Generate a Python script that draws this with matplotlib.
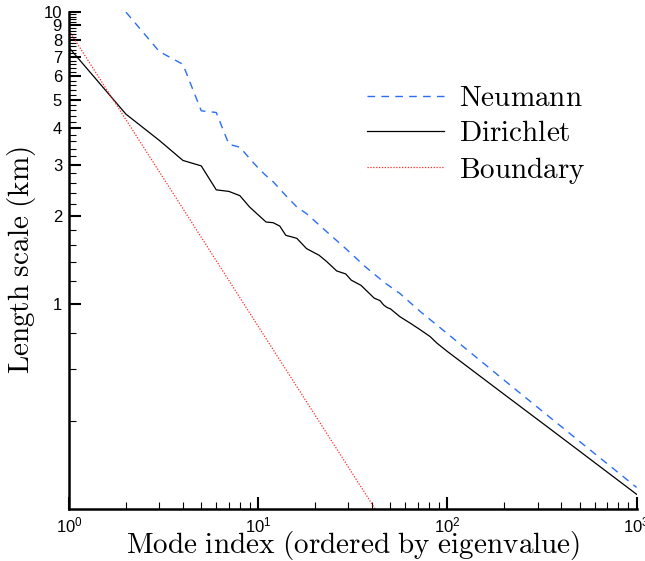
import numpy as np
import matplotlib
matplotlib.use("Agg")
import matplotlib.pyplot as plt
from matplotlib.ticker import FixedLocator, FixedFormatter, NullFormatter

plt.rcParams['font.family'] = ['Liberation Sans', 'DejaVu Sans']

# values
neumann_n = [2, 3, 4, 5, 6, 7, 8, 9, 10, 11, 12, 14, 16, 18, 23, 29, 37, 47, 56, 72, 100, 200, 500, 1000]
neumann_L = [9.95, 7.3, 6.6, 4.58, 4.52, 3.52, 3.44, 3.15, 2.92, 2.75, 2.62, 2.35, 2.15, 2.04, 1.77, 1.55,
             1.34, 1.18, 1.09, 0.944, 0.794, 0.55, 0.34, 0.237]

dirichlet_n = [1, 2, 3, 4, 5, 6, 7, 8, 9, 10, 11, 12, 13, 14, 15, 16, 18, 21, 23, 26, 29, 31, 35, 41,
               44, 46, 48, 50, 56, 64, 72, 81, 88, 100, 200, 335, 500, 1000]
dirichlet_L = [7.53, 4.46, 3.63, 3.10, 2.97, 2.46, 2.43, 2.35, 2.15, 2.02, 1.91, 1.90, 1.85, 1.72, 1.70,
               1.68, 1.55, 1.47, 1.40, 1.30, 1.27, 1.21, 1.16, 1.05, 1.03, 0.995, 0.975, 0.965, 0.908,
               0.86, 0.818, 0.776, 0.737, 0.69, 0.492, 0.383, 0.315, 0.2245]

boundary_n = [1, 41.5]
boundary_L = [8.6, 0.2]

x_major = [1, 10, 100, 1000]
x_labels = [r'$\mathregular{10^{0}}$', r'$\mathregular{10^{1}}$', r'$\mathregular{10^{2}}$', r'$\mathregular{10^{3}}$']
y_major = [1, 2, 3, 4, 5, 6, 7, 8, 9, 10]
y_labels = ['1', '2', '3', '4', '5', '6', '7', '8', '9', '10']

fig = plt.figure(figsize=(6.45, 5.61), dpi=100)
ax = fig.add_axes([0.107, 0.0927, 0.880, 0.8868])

ax.plot(neumann_n, neumann_L, color='#2a6ef5', lw=1.0, dashes=(5.5, 4.5), label=r'$\mathrm{Neumann}$')
ax.plot(dirichlet_n, dirichlet_L, color='black', lw=0.9, label=r'$\mathrm{Dirichlet}$')
ax.plot(boundary_n, boundary_L, color='#ff2a2a', lw=0.9, ls=(0, (1, 1.3)), label=r'$\mathrm{Boundary}$')

ax.set_xscale('log')
ax.set_yscale('log')
ax.set_xlim(1, 1000)
ax.set_ylim(0.2, 10)

# ticks
ax.xaxis.set_major_locator(FixedLocator(x_major))
ax.xaxis.set_major_formatter(FixedFormatter(x_labels))
xm = [m * d for d in [1, 10, 100] for m in range(2, 10)]
ax.xaxis.set_minor_locator(FixedLocator(xm))
ax.xaxis.set_minor_formatter(NullFormatter())

ax.yaxis.set_major_locator(FixedLocator(y_major))
ax.yaxis.set_major_formatter(FixedFormatter(y_labels))
ym = [0.4, 0.6, 0.8] + [round(1 + 0.2 * k, 1) for k in range(1, 45) if (1 + 0.2 * k) % 1 > 0.05 and (1 + 0.2 * k) % 1 < 0.95]
ax.yaxis.set_minor_locator(FixedLocator(ym))
ax.yaxis.set_minor_formatter(NullFormatter())

ax.tick_params(which='major', direction='in', length=8.5, width=1.5, labelsize=12)
ax.tick_params(which='minor', direction='in', length=5, width=0.8)
ax.tick_params(axis='x', which='major', pad=5)
ax.tick_params(axis='y', which='major', pad=5)

for s in ['top', 'right']:
    ax.spines[s].set_visible(False)
for s in ['left', 'bottom']:
    ax.spines[s].set_linewidth(1.8)

ax.set_xlabel(r'$\mathrm{Mode\ index\ (ordered\ by\ eigenvalue)}$', fontsize=21, math_fontfamily='cm', labelpad=-5)
ax.set_ylabel(r'$\mathrm{Length\ scale\ (km)}$', fontsize=21, math_fontfamily='cm', labelpad=4)

leg = ax.legend(loc='upper left', bbox_to_anchor=(367 / 645, 1 - 84 / 561), bbox_transform=fig.transFigure,
                frameon=False, fontsize=21, borderpad=0, borderaxespad=0,
                handlelength=2.65, handletextpad=0.5, labelspacing=0.25)
for t in leg.get_texts():
    t.set_math_fontfamily('cm')

fig.savefig('out.png', dpi=100)
